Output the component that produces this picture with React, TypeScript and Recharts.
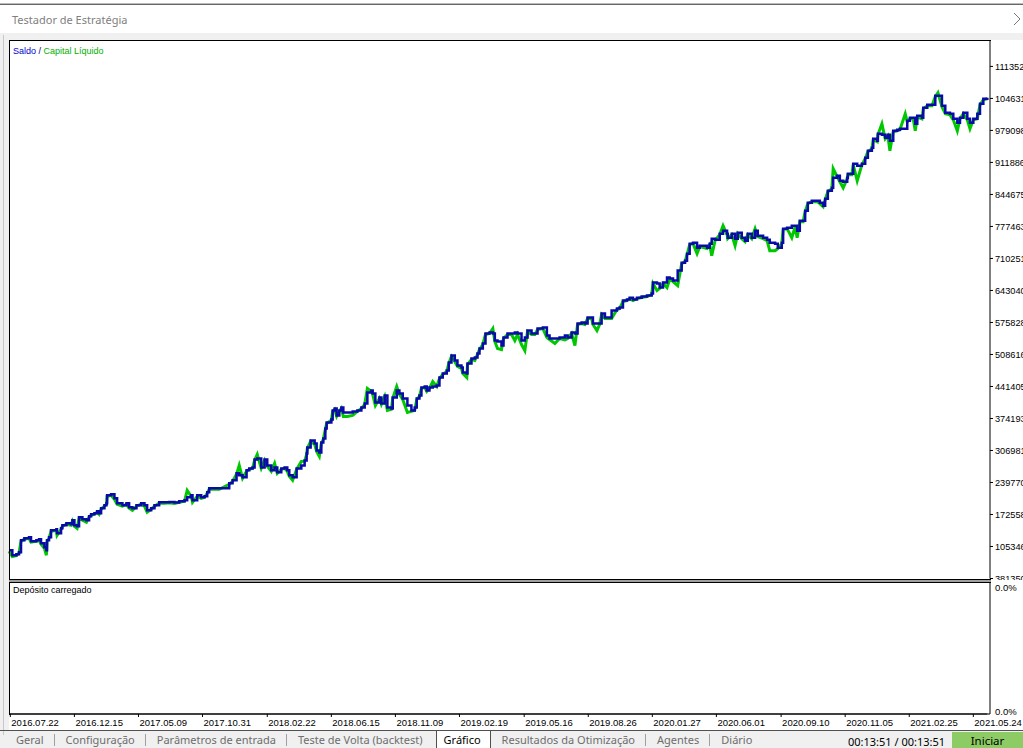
import React from 'react';
import { LineChart, Line, XAxis, YAxis } from 'recharts';

// deal number of each sampled balance / equity point
const deals = [
  0, 5, 11, 15, 18, 23, 30, 33, 41, 45,
  48, 53, 56, 57, 60, 63, 71, 72, 78, 80,
  86, 93, 95, 98, 102, 105, 110, 116, 120, 123,
  128, 132, 135, 138, 143, 146, 147, 153, 158, 162,
  170, 176, 180, 185, 191, 198, 203, 207, 213, 218,
  225, 233, 240, 248, 255, 263, 267, 273, 275, 282,
  288, 293, 297, 300, 315, 330, 335, 341, 345, 350,
  356, 360, 365, 368, 372, 378, 383, 387, 393, 398,
  402, 408, 413, 417, 420, 425, 431, 438, 443, 446,
  447, 452, 458, 461, 465, 468, 471, 474, 476, 483,
  485, 488, 491, 495, 498, 501, 507, 515, 522, 528,
  533, 537, 543, 545, 549, 555, 558, 563, 567, 573,
  575, 581, 585, 590, 597, 603, 608, 611, 615, 618,
  623, 626, 630, 635, 641, 645, 650, 656, 659, 663,
  668, 672, 678, 680, 686, 687, 693, 698, 702, 705,
  710, 714, 720, 725, 728, 732, 738, 741, 747, 753,
  758, 762, 768, 773, 777, 783, 788, 792, 800, 806,
  810, 818, 825, 833, 837, 843, 848, 852, 858, 863,
  867, 873, 875, 881, 885, 888, 893, 896, 903, 911,
  915, 920, 926, 930, 935, 941, 948, 956, 963, 965,
  971, 975, 980, 986, 990, 995, 1002, 1008, 1013, 1016,
  1020, 1025, 1031, 1035, 1046, 1050, 1053, 1058, 1065, 1070,
  1076, 1077, 1083, 1088, 1092, 1098, 1103, 1107, 1113, 1118,
  1122, 1130, 1136, 1140, 1148, 1152, 1158, 1160, 1166, 1173,
  1178, 1181, 1185, 1190, 1193, 1197, 1203, 1211, 1215, 1220,
  1223, 1227, 1233, 1235, 1241, 1245, 1250, 1256, 1257, 1263,
  1265, 1271, 1278, 1283, 1287, 1293, 1295, 1301, 1302, 1308,
  1313, 1317, 1320, 1325, 1331, 1335, 1343, 1346, 1350, 1355,
  1358, 1361, 1368, 1370, 1376, 1383, 1388, 1392, 1398, 1403,
  1410, 1415, 1421, 1425, 1430, 1436, 1440, 1445, 1451, 1455,
  1460, 1466,
];

const balance = [
  975000, 870000, 891000, 933000, 1185000, 1226000, 1247000, 1164000, 1185000, 1206000,
  1122000, 1038000, 975000, 1185000, 1247000, 1394000, 1415000, 1331000, 1436000, 1499000,
  1541000, 1520000, 1604000, 1499000, 1478000, 1667000, 1625000, 1604000, 1688000, 1730000,
  1751000, 1793000, 1751000, 1856000, 1919000, 1960000, 2128000, 2149000, 2065000, 1960000,
  1919000, 1960000, 1877000, 1856000, 1919000, 1960000, 1919000, 1814000, 1856000, 1919000,
  1981000, 1981000, 1990000, 1975000, 2002000, 2023000, 2086000, 2128000, 2023000, 2128000,
  2086000, 2107000, 2191000, 2275000, 2275000, 2380000, 2443000, 2590000, 2548000, 2506000,
  2653000, 2694000, 2715000, 2883000, 2904000, 2715000, 2883000, 2757000, 2653000, 2715000,
  2611000, 2694000, 2715000, 2653000, 2548000, 2506000, 2694000, 2757000, 2862000, 3009000,
  3135000, 3282000, 3219000, 3072000, 3030000, 3240000, 3324000, 3533000, 3659000, 3722000,
  3911000, 3953000, 3806000, 3911000, 3974000, 3869000, 3869000, 3890000, 3911000, 3974000,
  4058000, 4288000, 4330000, 4267000, 4079000, 4183000, 4058000, 4225000, 3974000, 3953000,
  4183000, 4330000, 4267000, 4162000, 4016000, 3911000, 3974000, 4162000, 4225000, 4393000,
  4414000, 4330000, 4393000, 4414000, 4435000, 4603000, 4687000, 4750000, 4917000, 5064000,
  4959000, 4854000, 4813000, 4708000, 4687000, 4896000, 5001000, 5022000, 5106000, 5211000,
  5316000, 5526000, 5547000, 5526000, 5379000, 5358000, 5274000, 5442000, 5526000, 5526000,
  5547000, 5526000, 5379000, 5442000, 5588000, 5526000, 5526000, 5630000, 5651000, 5484000,
  5421000, 5421000, 5442000, 5484000, 5442000, 5547000, 5526000, 5735000, 5756000, 5735000,
  5861000, 5861000, 5735000, 5735000, 5735000, 5945000, 5861000, 5861000, 6008000, 6050000,
  6071000, 6218000, 6239000, 6279000, 6239000, 6279000, 6301000, 6322000, 6364000, 6595000,
  6574000, 6490000, 6595000, 6700000, 6679000, 6637000, 6847000, 7014000, 7056000, 7203000,
  7413000, 7434000, 7329000, 7371000, 7329000, 7413000, 7518000, 7497000, 7623000, 7686000,
  7623000, 7539000, 7623000, 7518000, 7644000, 7539000, 7476000, 7623000, 7539000, 7686000,
  7581000, 7539000, 7497000, 7434000, 7413000, 7329000, 7434000, 7727000, 7748000, 7790000,
  7790000, 7686000, 7895000, 7895000, 8105000, 8273000, 8315000, 8315000, 8273000, 8210000,
  8357000, 8524000, 8587000, 8797000, 8839000, 8734000, 8713000, 8797000, 8881000, 8881000,
  9091000, 9049000, 9091000, 9216000, 9363000, 9426000, 9615000, 9573000, 9720000, 9699000,
  9636000, 9699000, 9573000, 9783000, 9804000, 9825000, 9825000, 9992000, 10055000, 10055000,
  9929000, 10097000, 10055000, 10265000, 10328000, 10328000, 10517000, 10517000, 10307000, 10160000,
  10139000, 10034000, 9950000, 10055000, 10160000, 10034000, 9950000, 10034000, 10139000, 10349000,
  10454000, 10475000,
];

const equity = [
  955000, 840000, 860000, 913000, 1165000, 1206000, 1227000, 1144000, 1165000, 1186000,
  1102000, 1018000, 870000, 1165000, 1227000, 1374000, 1395000, 1289000, 1416000, 1479000,
  1521000, 1500000, 1584000, 1479000, 1436000, 1647000, 1605000, 1562000, 1668000, 1710000,
  1731000, 1773000, 1731000, 1836000, 1899000, 1940000, 2108000, 2129000, 2045000, 1940000,
  1899000, 1940000, 1857000, 1814000, 1899000, 1940000, 1899000, 1772000, 1836000, 1899000,
  1961000, 1961000, 1970000, 1955000, 1982000, 2003000, 2233000, 2108000, 1981000, 2108000,
  2066000, 2087000, 2171000, 2255000, 2255000, 2360000, 2423000, 2570000, 2757000, 2486000,
  2633000, 2674000, 2695000, 2863000, 2988000, 2695000, 2863000, 2737000, 2633000, 2799000,
  2591000, 2674000, 2695000, 2633000, 2528000, 2443000, 2674000, 2841000, 2842000, 2989000,
  3115000, 3262000, 3199000, 3052000, 2946000, 3220000, 3304000, 3513000, 3639000, 3702000,
  3891000, 3933000, 3786000, 3891000, 3954000, 3785000, 3785000, 3806000, 3891000, 3954000,
  4038000, 4372000, 4310000, 4247000, 4016000, 4163000, 4038000, 4205000, 3911000, 3933000,
  4163000, 4414000, 4247000, 4142000, 3869000, 3891000, 3911000, 4142000, 4205000, 4373000,
  4394000, 4310000, 4373000, 4518000, 4415000, 4583000, 4667000, 4730000, 4897000, 5044000,
  4939000, 4834000, 4793000, 4688000, 4603000, 4876000, 4981000, 4959000, 5086000, 5191000,
  5296000, 5506000, 5527000, 5630000, 5359000, 5211000, 5188000, 5422000, 5506000, 5506000,
  5379000, 5506000, 5295000, 5168000, 5568000, 5506000, 5506000, 5610000, 5631000, 5442000,
  5401000, 5316000, 5422000, 5390000, 5422000, 5527000, 5274000, 5715000, 5736000, 5715000,
  5841000, 5841000, 5715000, 5588000, 5715000, 5925000, 5841000, 5841000, 5840000, 6030000,
  6051000, 6198000, 6219000, 6259000, 6219000, 6259000, 6281000, 6302000, 6344000, 6575000,
  6427000, 6470000, 6575000, 6490000, 6659000, 6617000, 6531000, 6994000, 7036000, 7183000,
  7393000, 7414000, 7203000, 7351000, 7309000, 7393000, 7159000, 7477000, 7603000, 7790000,
  7603000, 7519000, 7603000, 7371000, 7624000, 7519000, 7456000, 7603000, 7519000, 7727000,
  7561000, 7519000, 7477000, 7264000, 7264000, 7309000, 7414000, 7707000, 7728000, 7539000,
  7770000, 7539000, 7875000, 7875000, 8085000, 8253000, 8295000, 8295000, 8253000, 8190000,
  8337000, 8504000, 8567000, 8990000, 8819000, 8714000, 8587000, 8777000, 8861000, 8861000,
  9071000, 8734000, 9071000, 9196000, 9343000, 9406000, 9595000, 9553000, 9700000, 9929000,
  9616000, 9679000, 9363000, 9763000, 9784000, 9805000, 10139000, 9972000, 10035000, 10035000,
  9783000, 10077000, 10035000, 10245000, 10308000, 10308000, 10497000, 10580000, 10287000, 10140000,
  10119000, 10014000, 9783000, 10035000, 10140000, 10014000, 9825000, 10014000, 10034000, 10329000,
  10434000, 10455000,
];

const dateTicks = [2, 98, 194, 290, 387, 483, 579, 675, 772, 868, 964, 1060, 1157, 1253, 1349, 1445];
const dateLabels = [
  '2016.07.22', '2016.12.15', '2017.05.09', '2017.10.31', '2018.02.22', '2018.06.15',
  '2018.11.09', '2019.02.19', '2019.05.16', '2019.08.26', '2020.01.27', '2020.06.01',
  '2020.09.10', '2020.11.05', '2021.02.25', '2021.05.24',
];
const balanceTicks = [
  381350, 1053460, 1725580, 2397700, 3069810, 3741930, 4414050, 5086160, 5758280,
  6430400, 7102510, 7774630, 8446750, 9118860, 9790980, 10463100, 11135200,
];

// deposit load sub-window (stays at 0 %)
const loadDeals = [0, 1466];
const depositLoad = [0, 0];
const loadTicks = [0, 0.04];

const tabsLeft = ['Geral', 'Configuração', 'Parâmetros de entrada', 'Teste de Volta (backtest)'];
const activeTab = 'Gráfico';
const tabsRight = ['Resultados da Otimização', 'Agentes', 'Diário'];

const chartData = deals.map((d, i) => ({ deal: d, balance: balance[i], equity: equity[i] }));
const loadData = loadDeals.map((d, i) => ({ deal: d, load: depositLoad[i] }));

const AXIS_FONT = '"Liberation Sans", Arial, sans-serif';
const UI_FONT = '"Noto Sans", "Open Sans", sans-serif';

const DateTick = (props: any) => {
  const { x, y, payload } = props;
  const idx = dateTicks.indexOf(payload.value);
  return (
    <text x={x + 1} y={y + 8} textAnchor="start" fontSize={9.5} fontFamily={AXIS_FONT} fill="#000">
      {dateLabels[idx]}
    </text>
  );
};

const LoadTick = (props: any) => {
  const { x, y, payload } = props;
  const ty = payload.value > 0 ? y + 5 : y - 2;
  return (
    <text x={x} y={ty} dy="0.355em" textAnchor="start" fontSize={9.5} fontFamily={AXIS_FONT} fill="#000">
      {`${payload.value.toFixed(1)}%`}
    </text>
  );
};

const line = (style: React.CSSProperties) => <div style={{ position: 'absolute', ...style }} />;

const Sep = () => <div style={{ width: 1, background: '#a0a0a0', margin: '3px 0 2px' }} />;

export default function App() {
  return (
    <div
      style={{
        position: 'absolute', left: 0, top: 0, width: 1023, height: 748,
        overflow: 'hidden', background: '#f0f0f0', fontFamily: UI_FONT,
      }}
    >
      {/* title bar */}
      <div style={{ position: 'absolute', left: 0, top: 0, width: 1023, height: 33, background: '#fff' }} />
      {line({ left: 0, top: 3, width: 1023, height: 1, background: '#bbb' })}
      {line({ left: 0, top: 4, width: 1023, height: 1, background: '#666' })}
      <div style={{ position: 'absolute', left: 12, top: 11, height: 18, lineHeight: '18px', fontSize: 11, color: '#808080', whiteSpace: 'nowrap' }}>
        Testador de Estratégia
      </div>
      <svg style={{ position: 'absolute', left: 1010, top: 10 }} width={13} height={18}>
        <polyline points="4,3 10,9 4,15" fill="none" stroke="#777" strokeWidth={1} />
      </svg>

      {/* left gutter */}
      {line({ left: 3, top: 35, width: 1, height: 700, background: '#c8c8c8' })}
      {/* white chart panel */}
      <div style={{ position: 'absolute', left: 10, top: 40, width: 1013, height: 691, background: '#fff' }} />

      {/* main panel: balance / equity */}
      <div style={{ position: 'absolute', left: 0, top: 0 }}>
        <LineChart width={1023} height={580} data={chartData} margin={{ top: 40, right: 0, bottom: 1.5, left: 9 }}>
          <XAxis dataKey="deal" type="number" domain={[0, 1470]} hide />
          <YAxis
            orientation="right"
            width={33}
            domain={[381350, 11690000]}
            ticks={balanceTicks}
            interval={0}
            tickSize={3}
            tickMargin={2}
            axisLine={{ stroke: '#000' }}
            tickLine={{ stroke: '#000' }}
            tick={{ fill: '#000', fontSize: 9.2, fontFamily: AXIS_FONT }}
          />
          <Line
            type="linear"
            dataKey="equity"
            stroke="#00c800"
            strokeWidth={3}
            dot={false}
            isAnimationActive={false}
          />
          <Line
            type="stepAfter"
            dataKey="balance"
            stroke="#0a0aa8"
            strokeWidth={2.5}
            dot={false}
            isAnimationActive={false}
          />
        </LineChart>
      </div>

      {/* lower panel: deposit load + date axis */}
      <div style={{ position: 'absolute', left: 9, top: 581, width: 1014, height: 149, background: '#fff' }}>
        <LineChart width={1014} height={149} data={loadData} margin={{ top: 2, right: 0, bottom: 0, left: 0 }}>
          <XAxis
            dataKey="deal"
            type="number"
            domain={[0, 1470]}
            ticks={dateTicks}
            interval={0}
            height={16}
            tickSize={3}
            tickMargin={1}
            axisLine={{ stroke: '#000' }}
            tickLine={{ stroke: '#000' }}
            tick={DateTick}
          />
          <YAxis
            orientation="right"
            width={33}
            domain={[0, 0.04]}
            ticks={loadTicks}
            interval={0}
            tickSize={3}
            tickMargin={2}
            tickLine={false}
            axisLine={{ stroke: '#000' }}
            tick={LoadTick}
          />
          <Line
            type="stepAfter"
            dataKey="load"
            stroke="#000"
            strokeWidth={1}
            dot={false}
            isAnimationActive={false}
          />
        </LineChart>
      </div>

      {/* frame lines */}
      {line({ left: 9, top: 40, width: 982, height: 1, background: '#000' })}
      {line({ left: 9, top: 40, width: 1, height: 675, background: '#000' })}
      {line({ left: 9, top: 579, width: 982, height: 1, background: '#000' })}
      {line({ left: 9, top: 580, width: 982, height: 2, background: '#a0a0a0' })}
      {line({ left: 9, top: 582, width: 982, height: 1, background: '#000' })}

      {/* panel captions */}
      <div style={{ position: 'absolute', left: 13, top: 46, lineHeight: '11px', fontSize: 9, fontFamily: AXIS_FONT, whiteSpace: 'nowrap' }}>
        <span style={{ color: '#0000d0' }}>Saldo</span>
        <span style={{ color: '#000080' }}> / </span>
        <span style={{ color: '#00b000' }}>Capital Líquido</span>
      </div>
      <div style={{ position: 'absolute', left: 13, top: 585, lineHeight: '11px', fontSize: 9, fontFamily: AXIS_FONT, color: '#000' }}>
        Depósito carregado
      </div>

      {/* tab bar */}
      {line({ left: 0, top: 730, width: 1023, height: 1, background: '#505050' })}
      <div
        style={{
          position: 'absolute', left: 5, top: 731, height: 17, display: 'flex', alignItems: 'stretch',
          fontSize: 11, color: '#6d6d6d', whiteSpace: 'nowrap',
        }}
      >
        {tabsLeft.map((t, i) => (
          <React.Fragment key={t}>
            <div style={{ padding: '0 10px 0 11px', lineHeight: '17px' }}>{t}</div>
            {i < tabsLeft.length - 1 && <Sep />}
          </React.Fragment>
        ))}
        <div
          style={{
            marginLeft: 3, padding: '0 9px 0 7px', lineHeight: '17px', background: '#fff', color: '#000',
            borderLeft: '1px solid #505050', borderRight: '1px solid #505050',
          }}
        >
          {activeTab}
        </div>
        {tabsRight.map((t, i) => (
          <React.Fragment key={t}>
            <div style={{ padding: '0 10px 0 11px', lineHeight: '17px' }}>{t}</div>
            {i < tabsRight.length - 1 && <Sep />}
          </React.Fragment>
        ))}
      </div>
      <div style={{ position: 'absolute', left: 848, top: 733, lineHeight: '17px', fontSize: 11, color: '#000', whiteSpace: 'nowrap' }}>
        00:13:51 / 00:13:51
      </div>
      <div
        style={{
          position: 'absolute', left: 952, top: 732, width: 71, height: 16, background: '#8dcb65',
          textAlign: 'center', lineHeight: '18px', fontSize: 11.5, color: '#000',
        }}
      >
        Iniciar
      </div>
    </div>
  );
}
